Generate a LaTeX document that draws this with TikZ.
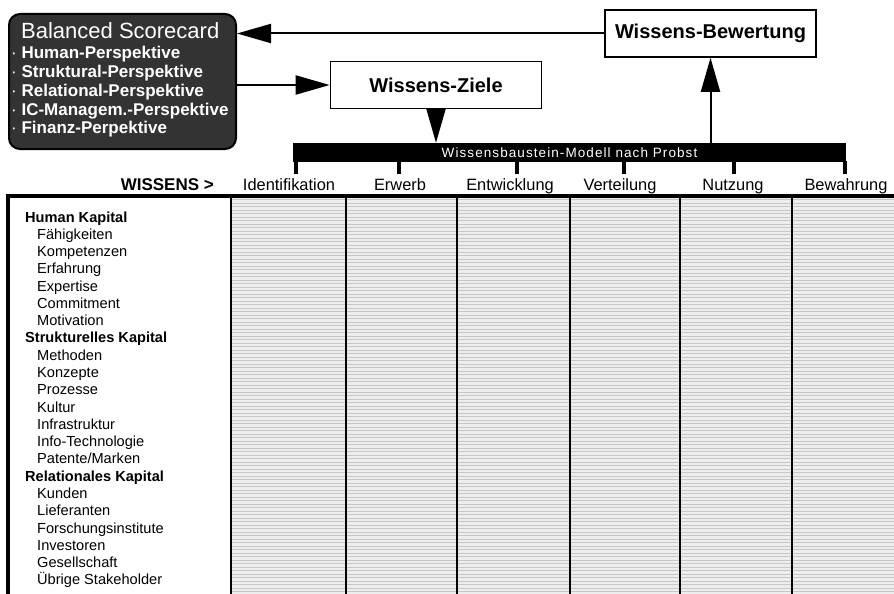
\documentclass[tikz,border=0pt]{standalone}
\usepackage{fontspec}
\setmainfont{Liberation Sans}
\newfontfamily\spacedfont[LetterSpace=8]{Liberation Sans}
\usetikzlibrary{arrows.meta, positioning}
\newcommand{\pxfont}[1]{\fontsize{#1}{#1}\selectfont}
\tikzset{
    box/.style={draw, line width=1.6pt, fill=white, minimum width=211pt, minimum height=47pt, font=\pxfont{20}\bfseries},
    scorebox/.style={draw=black, line width=2pt, fill=black!80, rounded corners=11pt, minimum width=227pt, minimum height=135pt},
    bsclist/.style={anchor=base west, inner sep=0pt, text=white, font=\pxfont{17}\bfseries},
    bigarrow/.style={line width=2pt, -{Triangle[length=34pt,width=19pt]}},
    colhead/.style={anchor=base, inner sep=0pt, font=\pxfont{16.4}},
    grp/.style={anchor=base west, inner sep=0pt, font=\pxfont{14.6}\bfseries},
    itm/.style={anchor=base west, inner sep=0pt, xshift=12pt, font=\pxfont{14.6}},
    tick/.style={line width=4pt},
}

\begin{document}
\begin{tikzpicture}[x=1pt, y=-1pt]
    \useasboundingbox (0,0) rectangle (894,594);

    % scorecard
    \node[scorebox, anchor=north west] (bsc) at (8,13) {};
    \node[anchor=base west, inner sep=0pt, text=white, font=\pxfont{22}] (bsc-title) at (21,39) {Balanced Scorecard};
    \foreach \txt [count=\i] in {Human-Perspektive, Struktural-Perspektive, Relational-Perspektive, IC-Managem.-Perspektive, Finanz-Perpektive}
        \node[bsclist] (bsc-\i) at (11,{59+(\i-1)*18.7}) {{\mdseries·}\ \txt};

    % boxes
    \node[box] (bew) at (710.5,33.5) {Wissens-Bewertung};
    \node[box] (ziele) at (436,85) {Wissens-Ziele};

    % Probst bar
    \node[fill=black, text=white, minimum width=553pt, minimum height=19pt, inner sep=0pt, font=\pxfont{13.5}\spacedfont] (bar) at (569.5,152.5) {Wissensbaustein-Modell nach Probst};
    \foreach \x in {296,399,517,624,734,845}
        \draw[tick] (\x,161) -- (\x,174);

    \draw[bigarrow] (bew.west) -- (bew.west -| bsc.east);
    \draw[bigarrow] (ziele.west -| bsc.east) -- (ziele.west);
    \draw[bigarrow] (ziele.south) -- (ziele.south |- bar.north);
    \draw[bigarrow] (bar.north -| bew.south) -- (bew.south);

    % headers
    \node[anchor=base east, inner sep=0pt, font=\pxfont{17}\bfseries] (wissens) at (214,190) {WISSENS >};
    \foreach \name/\x in {Identifikation/289, Erwerb/400, Entwicklung/510, Verteilung/620, Nutzung/733, Bewahrung/846}
        \node[colhead] (h-\name) at (\x,190) {\name};

    % table
    \fill[black!7] (231,198) rectangle (894,594);
    \foreach \y in {199.5,203,...,594}
        \draw[black!22, line width=0.8pt] (231,\y) -- (894,\y);
    \foreach \x in {231,346,457,570,680,792}
        \draw[line width=2.6pt] (\x,196) -- (\x,594);
    \draw[line width=4pt] (8,594) -- (8,196) -- (894,196);

    % rows
    \foreach \lbl/\sty [count=\i] in {Human Kapital/grp, Fähigkeiten/itm, Kompetenzen/itm, Erfahrung/itm, Expertise/itm, Commitment/itm, Motivation/itm,
        Strukturelles Kapital/grp, Methoden/itm, Konzepte/itm, Prozesse/itm, Kultur/itm, Infrastruktur/itm, Info-Technologie/itm, {Patente/Marken}/itm,
        Relationales Kapital/grp, Kunden/itm, Lieferanten/itm, Forschungsinstitute/itm, Investoren/itm, Gesellschaft/itm, Übrige Stakeholder/itm}
        \node[\sty] (r\i) at (25,{222+(\i-1)*17.28}) {\lbl};
\end{tikzpicture}
\end{document}
